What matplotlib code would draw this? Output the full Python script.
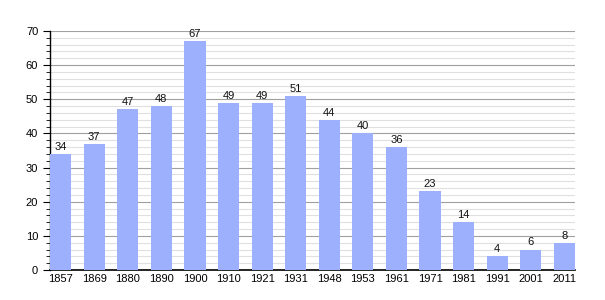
import matplotlib
matplotlib.use("Agg")
import matplotlib.pyplot as plt
import numpy as np

years = ["1857", "1869", "1880", "1890", "1900", "1910", "1921", "1931", "1948",
         "1953", "1961", "1971", "1981", "1991", "2001", "2011"]
values = [34, 37, 47, 48, 67, 49, 49, 51, 44, 40, 36, 23, 14, 4, 6, 8]

plt.rcParams['font.family'] = ['Liberation Sans', 'DejaVu Sans']

fig = plt.figure(figsize=(6.05, 3.0), dpi=100)
ax = fig.add_axes([50/605, 0.1, 525/605, 0.797])

x = np.arange(len(years))
w = 0.63
ax.bar(x, values, width=w, color='#9db0fd', zorder=3)
for xi, v in zip(x, values):
    ax.text(xi, v + 0.6, str(v), ha='center', va='bottom', fontsize=8, color='#111111', zorder=4)

ax.set_xlim(-w/2, len(years) - 1 + w/2)
ax.set_ylim(0, 70)
ax.set_yticks(np.arange(0, 71, 10))
ax.set_yticks(np.arange(0, 71, 2), minor=True)
ax.set_xticks(x)
ax.set_xticklabels(years)
ax.tick_params(axis='x', length=0, labelsize=8, pad=3)
ax.tick_params(axis='y', which='major', length=5, labelsize=8, direction='out')
ax.tick_params(axis='y', which='minor', length=3, direction='out')
ax.grid(axis='y', which='major', color='#a0a0a0', linewidth=0.8, zorder=0)
ax.grid(axis='y', which='minor', color='#e0e0e0', linewidth=0.8, zorder=0)
ax.set_axisbelow(True)
for s in ['top', 'right']:
    ax.spines[s].set_visible(False)
ax.spines['left'].set_linewidth(1.0)
ax.spines['bottom'].set_linewidth(1.2)

fig.savefig("out.png", dpi=100)
